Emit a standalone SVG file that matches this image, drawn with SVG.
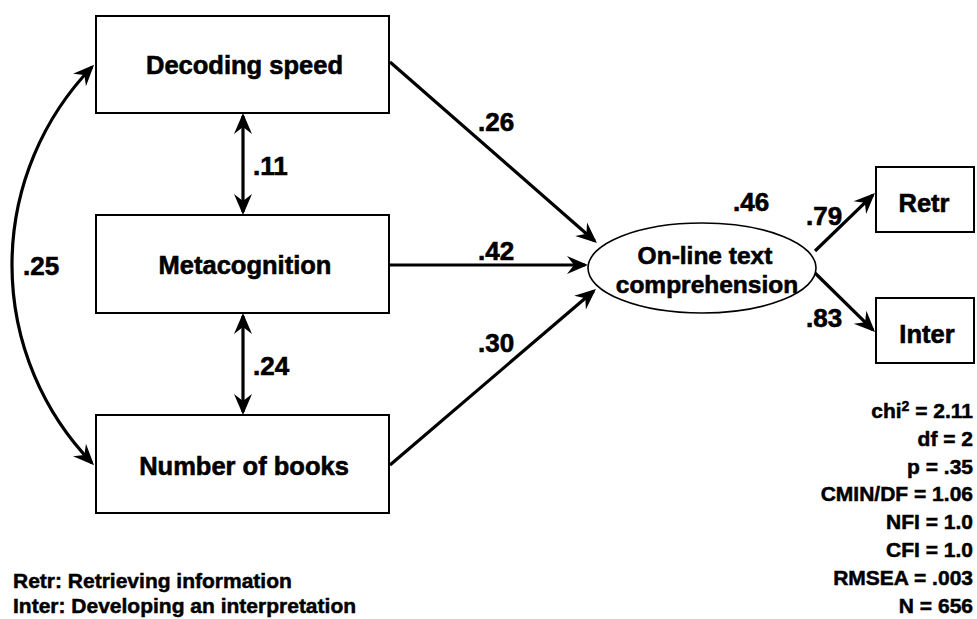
<svg xmlns="http://www.w3.org/2000/svg" width="977" height="619" viewBox="0 0 977 619">
<style>
  .box { fill: #fff; stroke: #000; stroke-width: 2; }
  .ell { fill: #fff; stroke: #000; stroke-width: 1.6; }
  .lbl { font-family: "Liberation Sans", Arial, sans-serif; font-weight: bold; fill: #000; stroke: #000; stroke-width: 0.6; }
  .node { font-size: 25.5px; text-anchor: middle; }
  .coef { font-size: 26px; }
  .stat { font-size: 21px; text-anchor: end; stroke-width: 0.5; }
  .leg { font-size: 21px; stroke-width: 0.5; }
  .con { fill: none; stroke: #000; stroke-width: 3.2; marker-end: url(#ah); }
  .dbl { marker-start: url(#ah); }
</style>
<defs>
  <marker id="ah" markerUnits="userSpaceOnUse" viewBox="-20 -10 24 20" markerWidth="24" markerHeight="20" refX="0" refY="0" orient="auto-start-reverse" overflow="visible">
    <path d="M3,0 L-18,-9 L-11,0 L-18,9 Z" fill="#000"/>
  </marker>
</defs>
<rect x="0" y="0" width="977" height="619" fill="#fff"/>

<g id="connectors">
  <path class="con" d="M390,62 L594.7,241"/>
  <path class="con" d="M390,265 L585,265"/>
  <path class="con" d="M390,465 L593.7,291"/>
  <path class="con" d="M815,251 L872.8,195.1"/>
  <path class="con" d="M815,273 L872.9,329.9"/>
  <path class="con dbl" d="M243,116 L243,212"/>
  <path class="con dbl" d="M243,316 L243,412"/>
  <path class="con dbl" d="M92,67 A285,285 0 0 0 92,463"/>
</g>

<g id="node-decoding">
  <rect class="box" x="96" y="16" width="293" height="97"/>
  <text class="lbl node" x="244.5" y="74">Decoding speed</text>
</g>
<g id="node-metacognition">
  <rect class="box" x="96" y="215" width="293" height="98"/>
  <text class="lbl node" x="245" y="274">Metacognition</text>
</g>
<g id="node-books">
  <rect class="box" x="96" y="415" width="293" height="98"/>
  <text class="lbl node" x="244" y="475">Number of books</text>
</g>
<g id="node-comprehension">
  <ellipse class="ell" cx="702" cy="268" rx="114" ry="45"/>
  <text class="lbl node" x="705" y="264" style="font-size:24.5px">On-line text</text>
  <text class="lbl node" x="707" y="293" style="font-size:24.5px">comprehension</text>
</g>
<g id="node-retr">
  <rect class="box" x="876" y="167" width="98" height="65"/>
  <text class="lbl node" x="924" y="212">Retr</text>
</g>
<g id="node-inter">
  <rect class="box" x="876" y="298" width="98" height="65"/>
  <text class="lbl node" x="927" y="343">Inter</text>
</g>

<g id="coefficients">
  <text class="lbl coef" x="478" y="131">.26</text>
  <text class="lbl coef" x="478" y="260">.42</text>
  <text class="lbl coef" x="478" y="352">.30</text>
  <text class="lbl coef" x="253" y="175">.11</text>
  <text class="lbl coef" x="253" y="375">.24</text>
  <text class="lbl coef" x="23" y="275">.25</text>
  <text class="lbl coef" x="733" y="211">.46</text>
  <text class="lbl coef" x="806" y="225">.79</text>
  <text class="lbl coef" x="806" y="327">.83</text>
</g>

<g id="fit-stats">
  <text class="lbl stat" x="973" y="418">chi<tspan font-size="14" dy="-7">2</tspan><tspan dy="7"> = 2.11</tspan></text>
  <text class="lbl stat" x="973" y="445.8">df = 2</text>
  <text class="lbl stat" x="973" y="473.6">p = .35</text>
  <text class="lbl stat" x="973" y="501.4">CMIN/DF = 1.06</text>
  <text class="lbl stat" x="973" y="529.2">NFI = 1.0</text>
  <text class="lbl stat" x="973" y="557">CFI = 1.0</text>
  <text class="lbl stat" x="973" y="584.8">RMSEA = .003</text>
  <text class="lbl stat" x="973" y="612.6">N = 656</text>
</g>

<g id="legend">
  <text class="lbl leg" x="13" y="588">Retr: Retrieving information</text>
  <text class="lbl leg" x="13" y="613">Inter: Developing an interpretation</text>
</g>
</svg>
